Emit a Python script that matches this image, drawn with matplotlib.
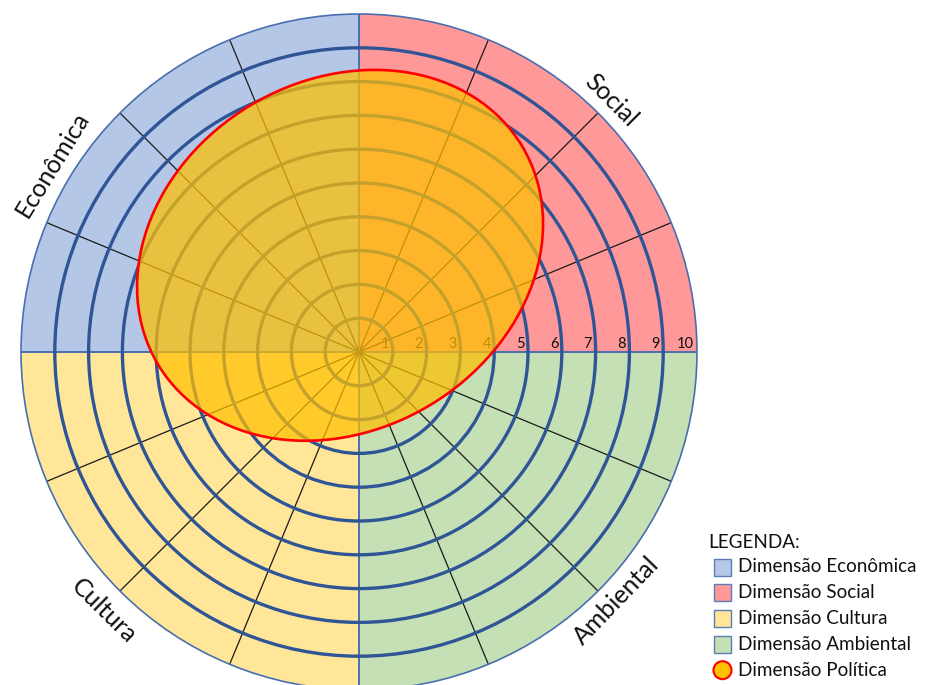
import matplotlib
matplotlib.use("Agg")
import matplotlib.pyplot as plt
from matplotlib.patches import Wedge, Circle, Ellipse, Rectangle
import numpy as np

plt.rcParams['font.family'] = ['Lato', 'DejaVu Sans']

# Dimensions (quadrants) of the sustainability wheel
dimensions = ["Econômica", "Social", "Cultura", "Ambiental"]
quadrant_start = [90, 0, 180, 270]          # start angle of each quadrant, degrees
quadrant_colors = ["#B4C7E7", "#FF9999", "#FFE699", "#C5E0B4"]
legend_title = "LEGENDA:"
legend_labels = ["Dimensão Econômica", "Dimensão Social", "Dimensão Cultura",
                 "Dimensão Ambiental", "Dimensão Política"]

# Scale of the wheel
scale_levels = list(range(1, 11))           # ring values 1..10
sector_step = 22.5                          # angular width of each sector

# Political dimension drawn as an ellipse (centre x, centre y, width, height, angle)
politica_center = (-0.56, 2.86)
politica_width = 12.56
politica_height = 10.34
politica_angle = 31
politica_color = "#FFC000"
politica_edge = "#FF0000"

# Placement of dimension titles (angle in degrees, radius in scale units)
label_angle = [148.5, 45, 225.5, -44]
label_radius = [10.65, 10.55, 10.75, 10.6]

R = scale_levels[-1]
S = 33.8  # pixels per scale unit
W, H = 925, 685

fig = plt.figure(figsize=(W / 100, H / 100), dpi=100)
ax = fig.add_axes([0, 0, 1, 1])
ax.set_xlim(-359 / S, (W - 359) / S)
ax.set_ylim(-(H - 352) / S, 352 / S)
ax.axis("off")

# Quadrant backgrounds
for start, col in zip(quadrant_start, quadrant_colors):
    ax.add_patch(Wedge((0, 0), R, start, start + 90, facecolor=col,
                       edgecolor="none", zorder=1))

# Sector dividers
for ang in np.arange(0, 360, sector_step):
    t = np.deg2rad(ang)
    if ang % 90 == 0:
        ax.plot([0, R * np.cos(t)], [0, R * np.sin(t)], color="#4A6FB0",
                lw=1.4, zorder=2, solid_capstyle="butt")
    else:
        ax.plot([0, R * np.cos(t)], [0, R * np.sin(t)], color="#1A1A1A",
                lw=0.9, zorder=2, solid_capstyle="butt")

# Rings
for lv in scale_levels[:-1]:
    ax.add_patch(Circle((0, 0), lv, facecolor="none", edgecolor="#2F5597",
                        lw=2.4, zorder=3))
ax.add_patch(Circle((0, 0), R, facecolor="none", edgecolor="#4A6FB0",
                    lw=1.2, zorder=3))

# Scale numbers along the horizontal axis
for lv in scale_levels:
    ax.text(lv - 0.1, 0.03, str(lv), ha="right", va="bottom", fontsize=10.5,
            color="#111111", zorder=4)

# Political dimension
ax.add_patch(Ellipse(politica_center, politica_width, politica_height,
                     angle=politica_angle, facecolor=politica_color, alpha=0.72,
                     edgecolor="none", zorder=5))
ax.add_patch(Ellipse(politica_center, politica_width, politica_height,
                     angle=politica_angle, facecolor="none",
                     edgecolor=politica_edge, lw=1.9, zorder=6))

# Dimension titles
for name, a, r in zip(dimensions, label_angle, label_radius):
    t = np.deg2rad(a)
    rot = a - 90 if np.sin(t) >= 0 else a + 90
    ax.text(r * np.cos(t), r * np.sin(t), name, rotation=rot,
            rotation_mode="anchor", ha="center", va="center",
            fontsize=18, color="#111111", zorder=7)

# Legend (figure pixel coordinates, origin at top-left)
def fx(px):
    return px / W

def fy(py):
    return 1 - py / H

fig.text(fx(708), fy(543), legend_title, ha="left", va="center",
         fontsize=13.6, color="#111111")
row_h = 25.8
box = 17
for i, lab in enumerate(legend_labels):
    yc = 567 + i * row_h
    if i < len(quadrant_colors):
        fig.patches.append(Rectangle((fx(714), fy(yc + box / 2)), box / W, box / H,
                                     transform=fig.transFigure,
                                     facecolor=quadrant_colors[i],
                                     edgecolor="#5B7DB8", lw=1))
    else:
        fig.patches.append(Ellipse((fx(722.5), fy(yc)), 18 / W, 18 / H,
                                   transform=fig.transFigure,
                                   facecolor=politica_color,
                                   edgecolor=politica_edge, lw=1.5))
    fig.text(fx(738), fy(yc), lab, ha="left", va="center",
             fontsize=13.6, color="#111111")

fig.savefig("out.png", dpi=100)
